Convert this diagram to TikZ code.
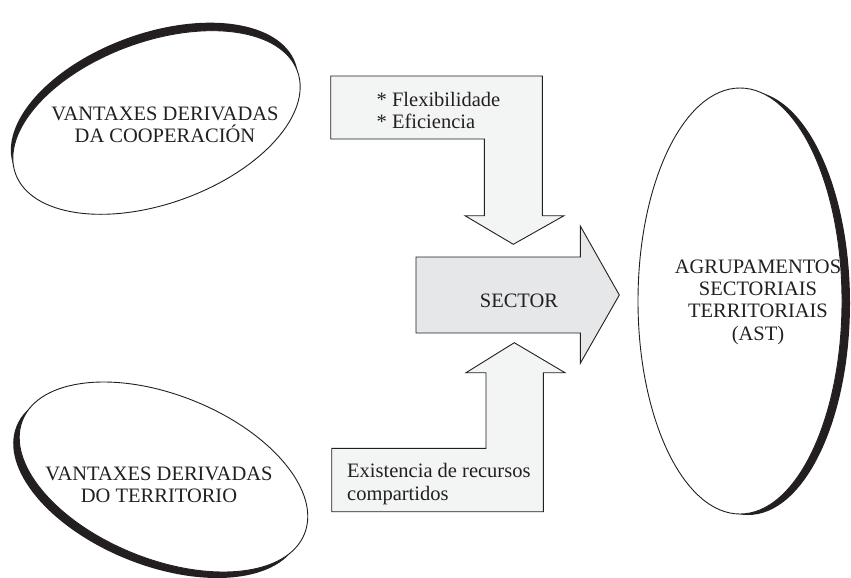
\documentclass[tikz,border=0pt]{standalone}
\usepackage{fontspec}
\setmainfont{Liberation Serif}
\begin{document}
\begin{tikzpicture}[x=1pt,y=-1pt,
  txt/.style={font=\fontsize{20.5}{22.3}\selectfont, text=ink, inner sep=0pt},
  blockarrow/.style={draw=ink, line width=0.9pt, line join=miter},
  ovalline/.style={draw=ink, fill=white, line width=0.9pt},
  shadowfill/.style={fill=ink}]
\definecolor{ink}{HTML}{231F20}
\definecolor{lightfill}{HTML}{F3F4F4}
\definecolor{midfill}{HTML}{E6E7E8}
\useasboundingbox (0,0) rectangle (851,578);

% top-left ellipse
\fill[shadowfill, rotate around={20:(154.5,114.5)}] (154.5,114.5) ellipse [x radius=150, y radius=81];
\path[ovalline, rotate around={20:(156.5,122.5)}] (156.5,122.5) ellipse [x radius=150, y radius=81];
\node[txt, align=center] (coop) at (165,125) {VANTAXES DERIVADAS\\DA COOPERACIÓN};

% bottom-left ellipse
\fill[shadowfill, rotate around={-22:(157.5,483)}] (157.5,483) ellipse [x radius=152, y radius=82];
\path[ovalline, rotate around={-22:(163.5,477)}] (163.5,477) ellipse [x radius=152, y radius=82];
\node[txt, align=center] (terr) at (159,485) {VANTAXES DERIVADAS\\DO TERRITORIO};

% right ellipse
\fill[shadowfill] (748,303) ellipse [x radius=102, y radius=212];
\path[ovalline] (740,301) ellipse [x radius=102, y radius=213];
\node[txt, align=center] (ast) at (758,302) {AGRUPAMENTOS\\SECTORIAIS\\TERRITORIAIS\\(AST)};

% top bent arrow
\path[blockarrow, fill=lightfill] (330.7,76) -- (542.3,76) -- (542.3,215.7) -- (564,215.7)
  -- (513.3,244.3) -- (465,215.7) -- (484.3,215.7) -- (484.3,139) -- (330.7,139) -- cycle;
\node[txt, align=left, anchor=west] (flex) at (376.5,110.5) {* Flexibilidade\\* Eficiencia};

% sector arrow
\path[blockarrow, fill=midfill] (416,257) -- (580.3,257) -- (580.3,226) -- (619.3,295)
  -- (580.3,363.3) -- (580.3,333) -- (416,333) -- cycle;
\node[txt] (sector) at (519,301) {SECTOR};

% bottom bent arrow
\path[blockarrow, fill=lightfill] (331.7,511.7) -- (543.3,511.7) -- (543.3,372.7) -- (565,372.7)
  -- (514.3,342.7) -- (466,372.7) -- (486,372.7) -- (486,448.3) -- (331.7,448.3) -- cycle;
\node[txt, align=left, anchor=west] (recursos) at (347,484) {Existencia de recursos\\compartidos};
\end{tikzpicture}
\end{document}
